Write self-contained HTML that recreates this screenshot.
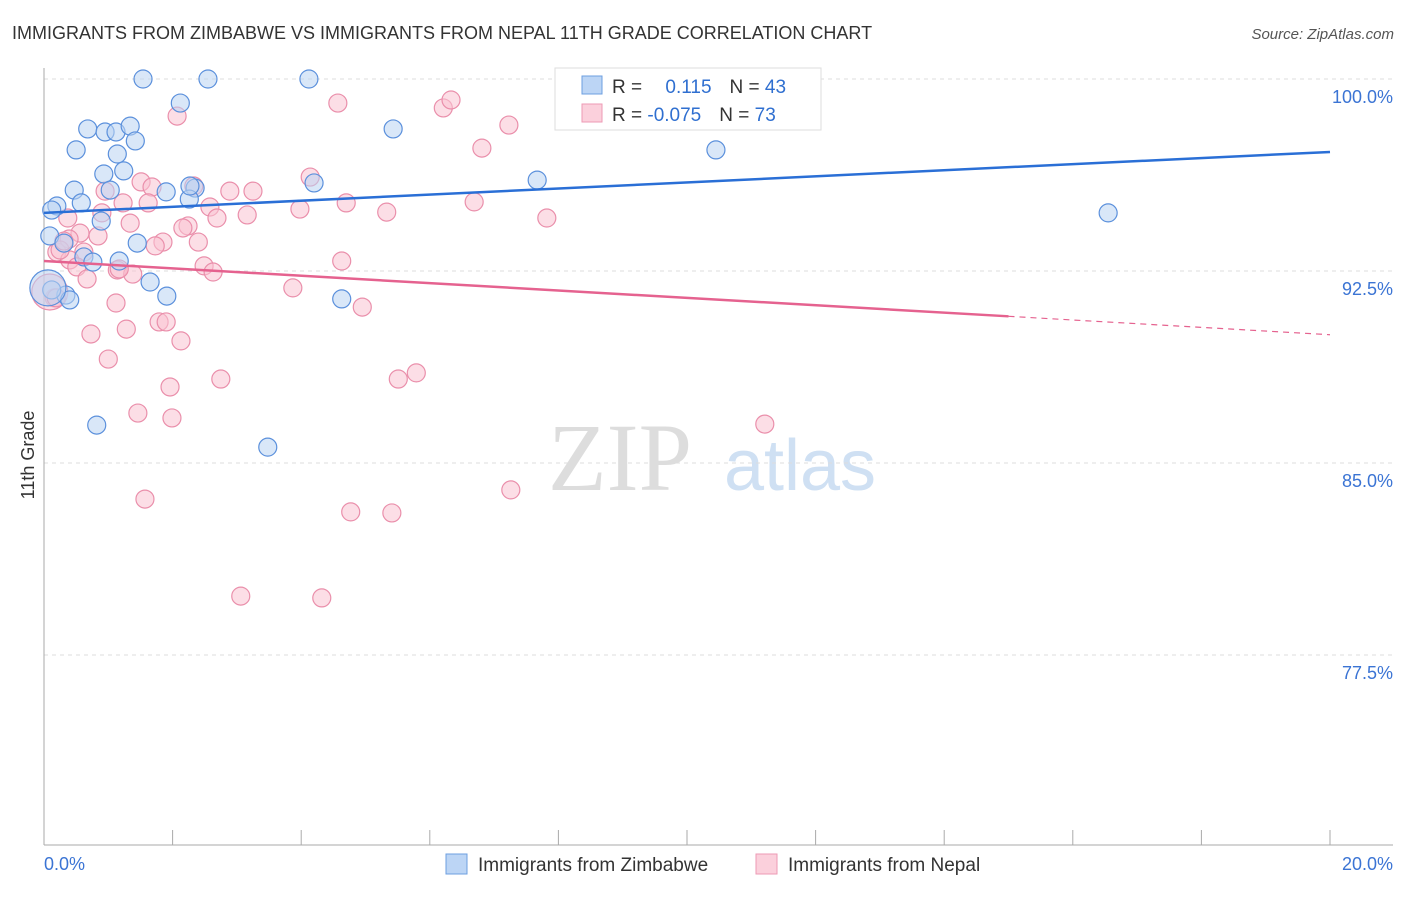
<!DOCTYPE html>
<html><head><meta charset="utf-8"><style>
body{margin:0;background:#fff;font-family:"Liberation Sans",sans-serif}
</style></head><body>
<svg id="c" width="1406" height="892" xmlns="http://www.w3.org/2000/svg">
<text x="12" y="39" font-size="18" fill="#333">IMMIGRANTS FROM ZIMBABWE VS IMMIGRANTS FROM NEPAL 11TH GRADE CORRELATION CHART</text>
<text x="1394" y="39" font-size="15" fill="#555" text-anchor="end" font-style="italic">Source: ZipAtlas.com</text>
<text x="620" y="490" font-size="96" fill="#ddd" font-family="Liberation Serif,serif" text-anchor="middle">ZIP</text>
<text x="800" y="490" font-size="72" fill="#cfe0f3" text-anchor="middle">atlas</text>
<g id="grid"></g><g id="axes"></g><g id="pts"></g><g id="lines"></g>
<text x="34" y="455" font-size="18" fill="#333" text-anchor="middle" transform="rotate(-90 34 455)">11th Grade</text>
<g>
<rect x="555" y="68" width="266" height="62" fill="#fff" stroke="#ddd"/>
<rect x="582" y="76" width="20" height="18" fill="#bcd5f5" stroke="#6d9fe0"/>
<rect x="582" y="104" width="20" height="18" fill="#fbd0dc" stroke="#ee9ab4"/>
<text x="612" y="93" font-size="19" fill="#333">R = <tspan fill="#2f6fd0" dx="18">0.115</tspan><tspan dx="18" fill="#333">N = </tspan><tspan fill="#2f6fd0">43</tspan></text>
<text x="612" y="121" font-size="19" fill="#333">R = <tspan fill="#2f6fd0">-0.075</tspan><tspan dx="18" fill="#333">N = </tspan><tspan fill="#2f6fd0">73</tspan></text>
</g>
<g>
<rect x="446" y="854" width="21" height="20" fill="#bcd5f5" stroke="#6d9fe0"/>
<text x="478" y="871" font-size="19" fill="#333">Immigrants from Zimbabwe</text>
<rect x="756" y="854" width="21" height="20" fill="#fbd0dc" stroke="#ee9ab4"/>
<text x="788" y="871" font-size="19" fill="#333">Immigrants from Nepal</text>
</g>
</svg>
<script>
const yTicks=[100,92.5,85,77.5];
const yTickLabels=["100.0%","92.5%","85.0%","77.5%"];
const xTickLabels=["0.0%","20.0%"];
const blueX=[1.54,2.55,4.12,2.12,0.68,0.95,1.12,1.34,1.42,5.43,0.50,1.14,10.45,0.93,1.24,0.47,1.03,1.90,2.35,4.20,7.67,2.26,0.20,0.58,0.12,0.89,16.55,0.09,0.31,1.45,0.62,0.76,1.17,1.65,1.91,0.34,0.40,4.63,0.82,3.48,0.12,0.06,2.27];
const blueY=[100,100,100,99.06,98.05,97.93,97.93,98.16,97.58,98.05,97.23,97.07,97.23,96.29,96.41,95.66,95.66,95.59,95.74,95.94,96.05,95.31,95.04,95.16,94.88,94.45,94.77,93.87,93.59,93.59,93.05,92.85,92.89,92.07,91.52,91.56,91.37,91.41,86.48,85.62,91.76,91.84,95.82];
const pinkX=[4.57,6.21,6.33,2.07,7.23,6.81,4.14,1.51,1.68,0.95,2.89,3.25,2.33,1.23,1.62,2.58,3.98,4.70,6.69,5.33,7.82,3.16,2.69,0.37,0.90,1.34,2.24,2.16,0.84,0.56,0.39,1.85,1.73,2.40,0.62,0.20,0.40,0.51,0.67,1.14,1.38,2.49,2.63,4.63,3.87,4.95,0.16,1.12,0.73,1.28,1.79,1.90,2.13,1.00,2.75,1.96,5.51,5.79,1.46,1.99,11.21,1.57,7.26,4.77,5.41,3.06,4.32,0.09,0.19,0.25,1.17,0.31];
const pinkY=[99.06,98.87,99.18,98.55,98.20,97.30,96.17,95.98,95.78,95.62,95.62,95.62,95.82,95.16,95.16,95.00,94.92,95.16,95.20,94.80,94.57,94.69,94.57,94.57,94.77,94.37,94.26,94.18,93.87,93.98,93.75,93.63,93.48,93.63,93.24,93.24,92.93,92.66,92.19,92.54,92.38,92.70,92.46,92.89,91.84,91.09,91.45,91.25,90.04,90.23,90.51,90.51,89.77,89.06,88.28,87.97,88.28,88.52,86.95,86.76,86.52,83.59,83.95,83.09,83.05,79.80,79.73,91.68,91.45,93.32,92.58,93.67];
const blueBig=[41];
const pinkBig=[67];
const blueTrend=[94.77,97.15];
const pinkTrend=[92.89,90.01];
const pinkSolidEnd=15;
const NS="http://www.w3.org/2000/svg";
const X0=44,X1=1330,Y0=79,PXPCT=25.6;
const sx=v=>X0+v*(X1-X0)/20;
const sy=v=>Y0+(100-v)*PXPCT;
function mk(t,a,p){const e=document.createElementNS(NS,t);for(const k in a)e.setAttribute(k,a[k]);p.appendChild(e);return e;}
const grid=document.getElementById('grid'),axes=document.getElementById('axes'),pts=document.getElementById('pts'),lines=document.getElementById('lines');
yTicks.forEach((v,i)=>{
 const l=mk('line',{x1:44,x2:1393,y1:sy(v),y2:sy(v),stroke:'#ddd','stroke-dasharray':'4 4'},grid);
 
 
 const t=mk('text',{x:1393,y:sy(v)+24,'font-size':18,fill:'#3b74d4','text-anchor':'end'},axes);
 t.textContent=yTickLabels[i];
 
 
});
const ya=mk('line',{x1:44,x2:44,y1:68,y2:845,stroke:'#aaa'},axes);


const xa=mk('line',{x1:44,x2:1393,y1:845,y2:845,stroke:'#aaa'},axes);


for(let i=0;i<=10;i++){
 const tk=mk('line',{x1:sx(i*2),x2:sx(i*2),y1:830,y2:845,stroke:'#aaa'},axes);
 
 
}
[[0,'start',44],[20,'end',1393]].forEach((d,i)=>{
 const t=mk('text',{x:d[2],y:870,'font-size':18,fill:'#3b74d4','text-anchor':d[1]},axes);
 t.textContent=xTickLabels[i];
 
 
});
function draw(xs,ys,big,fill,stroke,name){
 xs.forEach((x,i)=>{
  const c=mk('circle',{cx:sx(x),cy:sy(ys[i]),r:big.includes(i)?18:9,fill:fill,'fill-opacity':0.55,stroke:stroke,'stroke-width':1.2},pts);
  
  
 });
}
draw(pinkX,pinkY,pinkBig,'#f9c3d2','#ea8fab','point-nepal');
draw(blueX,blueY,blueBig,'#b9d3f3','#5b90dc','point-zimbabwe');
const bl=mk('line',{x1:sx(0),y1:sy(blueTrend[0]),x2:sx(20),y2:sy(blueTrend[1]),stroke:'#2a6fd6','stroke-width':2.5},lines);


const pm=pinkTrend[0]+(pinkTrend[1]-pinkTrend[0])*pinkSolidEnd/20;
const pl=mk('line',{x1:sx(0),y1:sy(pinkTrend[0]),x2:sx(pinkSolidEnd),y2:sy(pm),stroke:'#e5628f','stroke-width':2.5},lines);


const pd=mk('line',{x1:sx(pinkSolidEnd),y1:sy(pm),x2:sx(20),y2:sy(pinkTrend[1]),stroke:'#e5628f','stroke-width':1.2,'stroke-dasharray':'6 5'},lines);


</script>
</body></html>
